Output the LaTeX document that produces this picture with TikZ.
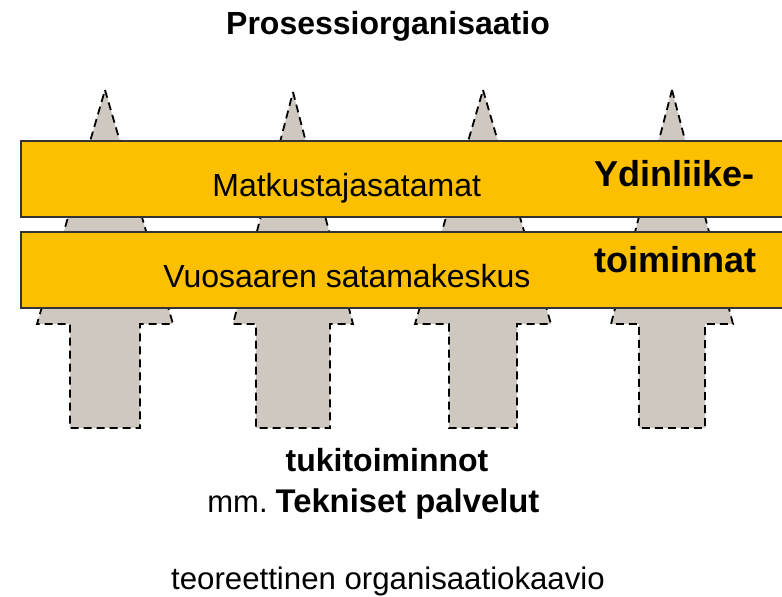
\documentclass[tikz,border=0pt]{standalone}
\usepackage{fontspec}
\setmainfont{Liberation Sans}
\definecolor{bargold}{RGB}{252,192,0}
\definecolor{arrowgray}{RGB}{206,200,192}

\begin{document}
\begin{tikzpicture}[x=0.5pt,y=-0.5pt,
    support arrow/.style={fill=arrowgray,draw=black,line width=0.9pt,dash pattern=on 4pt off 2.5pt},
    core bar/.style={fill=bargold,draw=black!80,line width=0.75pt},
    label text/.style={inner sep=0pt,font=\fontsize{16}{19}\selectfont},
    big text/.style={inner sep=0pt,font=\fontsize{18}{21}\selectfont\bfseries}]

    \useasboundingbox (0,0) rectangle (782,597);

    % tukitoiminnot: arrows
    \foreach \c/\h/\s/\t in {105/68/35/90, 293/60/37/92, 483/68/34/90, 672/61/33/90}
        \draw[support arrow] (\c,\t) -- (\c+\h,324) -- (\c+\s,324) -- (\c+\s,428)
            -- (\c-\s,428) -- (\c-\s,324) -- (\c-\h,324) -- cycle;

    % ydinliiketoiminnat: bars
    \draw[core bar] (21,141) rectangle (790,217);
    \draw[core bar] (21,232) rectangle (790,308);

    \node[label text,font=\fontsize{16}{19}\selectfont\bfseries] (title) at (388,35) [anchor=base] {Prosessiorganisaatio};
    \node[label text] (port) at (212,197) [anchor=base west] {Matkustajasatamat};
    \node[label text] (vuosaari) at (163,288) [anchor=base west] {Vuosaaren satamakeskus};
    \node[big text] (core1) at (594,187) [anchor=base west] {Ydinliike-};
    \node[big text] (core2) at (594,273) [anchor=base west] {toiminnat};
    \node[label text,font=\fontsize{16}{19}\selectfont\bfseries] (support) at (387,472) [anchor=base] {tukitoiminnot};
    \node[label text] (services) at (207,513) [anchor=base west] {{\fontsize{15.5}{19}\selectfont mm.}\hspace{4pt}\textbf{\fontsize{16.4}{19}\selectfont Tekniset palvelut}};
    \node[label text,font=\fontsize{15.6}{19}\selectfont] (caption) at (388,590) [anchor=base] {teoreettinen organisaatiokaavio};
\end{tikzpicture}
\end{document}
